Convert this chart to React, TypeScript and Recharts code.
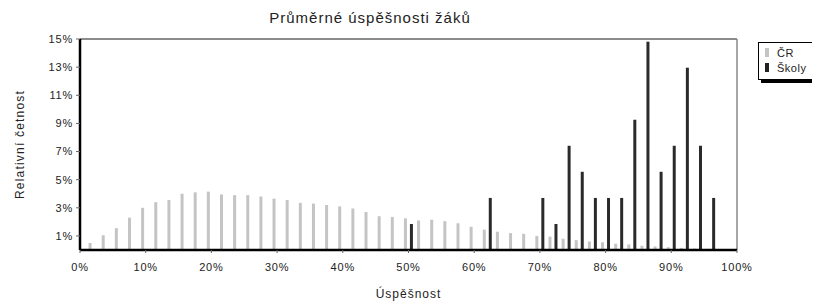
import React from "react"
import { Bar, BarChart, ReferenceLine, XAxis, YAxis } from "recharts"

// 2% bins, centre of each bin in percent
const bins = [
  2, 4, 6, 8, 10, 12, 14, 16, 18, 20, 22, 24, 26, 28, 30, 32, 34, 36, 38, 40,
  42, 44, 46, 48, 50, 52, 54, 56, 58, 60, 62, 64, 66, 68, 70, 72, 74, 76, 78, 80,
  82, 84, 86, 88, 90, 92, 94, 96, 98,
]

// relative frequency, whole country (ČR)
const crValues = [
  0.5, 1.05, 1.55, 2.3, 3.0, 3.4, 3.55, 4.0, 4.1, 4.15, 3.95, 3.9, 3.9, 3.8, 3.65, 3.55, 3.35, 3.3, 3.2, 3.1,
  2.95, 2.7, 2.4, 2.35, 2.25, 2.1, 2.15, 2.05, 1.9, 1.65, 1.45, 1.3, 1.2, 1.15, 1.0, 0.95, 0.8, 0.7, 0.6, 0.55,
  0.45, 0.4, 0.3, 0.25, 0.2, 0.15, 0.1, 0.08, 0.05,
]

// schools: only bins with non-zero frequency
const skolyBins = [50, 62, 70, 72, 74, 76, 78, 80, 82, 84, 86, 88, 90, 92, 94, 96]
const skolyValues = [1.85, 3.7, 3.7, 1.85, 7.41, 5.56, 3.7, 3.7, 3.7, 9.26, 14.81, 5.56, 7.41, 12.96, 7.41, 3.7]

const xTicks = [0, 10, 20, 30, 40, 50, 60, 70, 80, 90, 100]
const yTicks = [1, 3, 5, 7, 9, 11, 13, 15]

const data = bins.map((b, i) => {
  const k = skolyBins.indexOf(b)
  return { bin: b, cr: crValues[i], skoly: k >= 0 ? skolyValues[k] : 0 }
})

const pct = (v: number) => `${v}%`

const font = "Liberation Sans, Arial, sans-serif"

const LegendBox = () => (
  <div
    style={{
      position: "absolute",
      left: 750,
      top: 34,
      background: "#fff",
      border: "1px solid #000",
      boxShadow: "3px 3px 0 #000",
      padding: "3px 6px",
      width: 80,
      fontSize: 11,
      lineHeight: "15px",
      letterSpacing: 0.5,
      color: "#222",
    }}
  >
    <div>
      <span style={{ display: "inline-block", width: 4, height: 9, background: "#c4c4c4", marginRight: 8 }} />
      ČR
    </div>
    <div>
      <span style={{ display: "inline-block", width: 4, height: 9, background: "#222", marginRight: 8 }} />
      Školy
    </div>
  </div>
)

export default function App() {
  return (
    <div style={{ position: "relative", width: 812, height: 294, overflow: "hidden", fontFamily: font }}>
      <div
        style={{
          position: "absolute",
          left: 242,
          top: 1,
          width: 240,
          textAlign: "center",
          fontSize: 15,
          letterSpacing: 1,
          color: "#222",
        }}
      >
        Průměrné úspěšnosti žáků
      </div>
      <BarChart
        width={812}
        height={294}
        data={data}
        barGap={3}
        margin={{ top: 31, right: 83, left: 10, bottom: 2 }}
      >
        <XAxis
          dataKey="bin"
          type="number"
          domain={[0, 100]}
          ticks={xTicks}
          tickFormatter={pct}
          axisLine={{ stroke: "#000", strokeWidth: 2.5 }}
          tickLine={{ stroke: "#666" }}
          tickSize={3}
          tickMargin={10}
          height={50}
          tick={{ fontSize: 11, fill: "#222", letterSpacing: 0.8 }}
          label={{ value: "Úspěšnost", position: "insideBottom", offset: 2, fontSize: 12, fill: "#222", letterSpacing: 1 }}
        />
        <YAxis
          type="number"
          domain={[0, 15]}
          ticks={yTicks}
          tickFormatter={pct}
          axisLine={{ stroke: "#000", strokeWidth: 2.5 }}
          tickLine={{ stroke: "#666" }}
          tickSize={4}
          tickMargin={3}
          width={62}
          tick={{ fontSize: 11, fill: "#222", letterSpacing: 0.8 }}
          label={{ value: "Relativní četnost", angle: -90, position: "insideLeft", offset: 2, fontSize: 12, fill: "#222", letterSpacing: 1.2, style: { textAnchor: "middle" } }}
        />
        <ReferenceLine y={15} stroke="#666" strokeWidth={1.5} />
        <ReferenceLine x={100} stroke="#888" strokeWidth={1.5} />
        <Bar dataKey="cr" name="ČR" fill="#c4c4c4" barSize={3} isAnimationActive={false} />
        <Bar dataKey="skoly" name="Školy" fill="#2a2a2a" barSize={3} isAnimationActive={false} />
      </BarChart>
      <LegendBox />
    </div>
  )
}
